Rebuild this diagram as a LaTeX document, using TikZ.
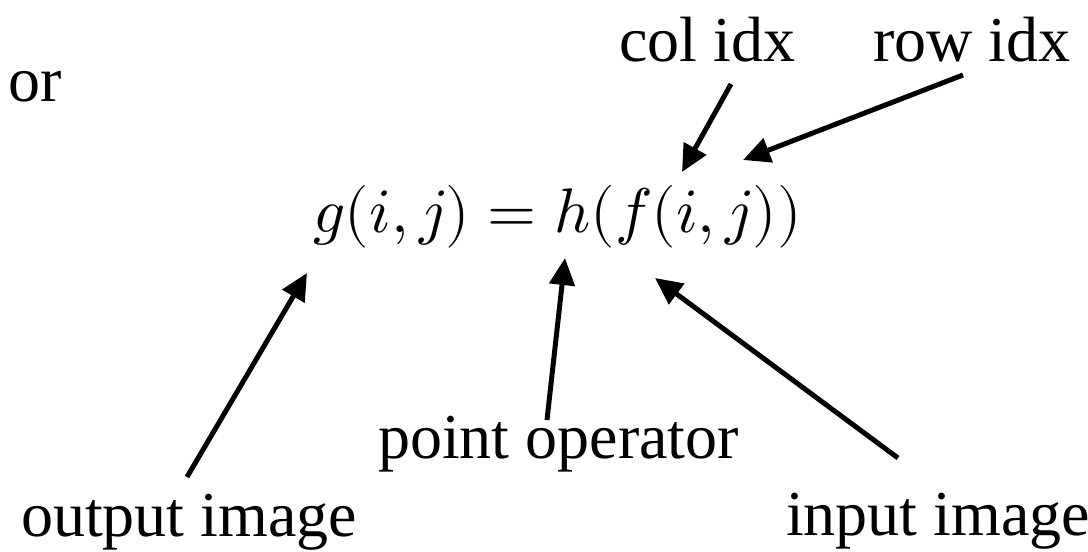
\documentclass[tikz,border=0pt]{standalone}
\usepackage{fontspec}
\setmainfont{Liberation Serif}
\usepackage{unicode-math}
\setmathfont{Latin Modern Math}
\usetikzlibrary{arrows.meta}
\begin{document}
\begin{tikzpicture}[x=1pt,y=-1pt,
  lbl/.style={inner sep=0pt,anchor=base west,font=\fontsize{64}{70}\selectfont},
  frm/.style={inner sep=0pt,anchor=base west,font=\fontsize{63}{68}\selectfont},
  pointer/.style={line width=5pt,-{Triangle[length=27pt,width=25pt]}}]
\useasboundingbox (0,0) rectangle (1088,552);
\node[lbl] (or) at (8,101) {or};
\node[lbl] (col) at (619,61) {col idx};
\node[lbl] (row) at (873,61) {row idx};
\node[frm] (eq) at (313,232) {$g(i,j)=h(f(i,j))$};
\node[lbl] (pt) at (378,458) {point operator};
\node[lbl] (out) at (21,536) {output image};
\node[lbl] (in) at (786,535) {input image};
\coordinate (colS) at (731,84);   \coordinate (colT) at (682,172);
\coordinate (rowS) at (963,75);   \coordinate (rowT) at (743,160);
\coordinate (outS) at (187,477);  \coordinate (outT) at (307,273);
\coordinate (ptS) at (547,420);   \coordinate (ptT) at (565,258);
\coordinate (inS) at (898,458);   \coordinate (inT) at (655,278);
\draw[pointer] (colS) -- (colT);
\draw[pointer] (rowS) -- (rowT);
\draw[pointer] (outS) -- (outT);
\draw[pointer] (ptS) -- (ptT);
\draw[pointer] (inS) -- (inT);
\end{tikzpicture}
\end{document}
